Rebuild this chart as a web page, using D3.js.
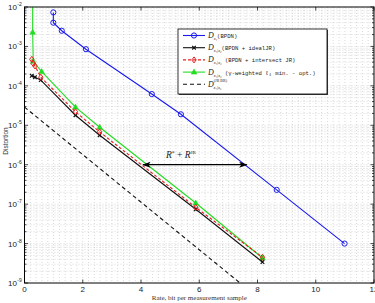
<!DOCTYPE html>
<html>
<head>
<meta charset="utf-8">
<script src="https://cdn.jsdelivr.net/npm/d3@7"></script>
<style>
  body { margin: 0; background: #fff; }
  svg { display: block; }
</style>
</head>
<body>
<svg id="chart" width="375" height="303"></svg>
<script>
// rate (bit / measurement sample) and distortion for each curve
const bpdnRate = [0.99, 0.99, 1.28, 2.11, 4.37, 5.37, 8.66, 10.99];
const bpdnDist = [7.3e-3, 4.0e-3, 2.5e-3, 8.5e-4, 6.2e-5, 1.9e-5, 2.3e-7, 1.0e-8];

const idealRate = [0.25, 0.36, 0.56, 1.75, 2.58, 5.88, 8.17];
const idealDist = [1.8e-4, 1.66e-4, 1.4e-4, 1.8e-5, 5.6e-6, 7.4e-8, 3.4e-9];

const interRate = [0.25, 0.30, 0.36, 0.56, 1.75, 2.58, 5.88, 8.17];
const interDist = [4.7e-4, 3.7e-4, 3.2e-4, 1.66e-4, 2.2e-5, 6.8e-6, 8.3e-8, 4.5e-9];

const gammaRate = [0.28, 0.28, 0.30, 0.59, 1.75, 2.58, 5.88, 8.17];
const gammaDist = [1e-1, 2.3e-3, 4.2e-4, 2.3e-4, 2.9e-5, 8.9e-6, 1.07e-7, 4.3e-9];

const boundRate = [0, 7.4];
const boundDist = [2.9e-5, 1e-9];

const xTicks = [0, 2, 4, 6, 8, 10, 12];
const yExps = [-9, -8, -7, -6, -5, -4, -3, -2];

const margin = {left: 24.5, right: 374, top: 7, bottom: 283};
const svg = d3.select("#chart");

const x = d3.scaleLinear().domain([0, 12]).range([margin.left, margin.right]);
const y = d3.scaleLog().domain([1e-9, 1e-2]).range([margin.bottom, margin.top]);

// grid (major + minor, all dotted like matlab)
const grid = svg.append("g")
    .attr("stroke", "#b4b4b4")
    .attr("stroke-width", 0.5)
    .attr("stroke-dasharray", "1,2");

const xMinor = d3.range(0.2, 12, 0.2);
grid.selectAll(".vx").data(xMinor).join("line")
    .attr("x1", d => x(d)).attr("x2", d => x(d))
    .attr("y1", margin.top).attr("y2", margin.bottom);

let yMinor = [];
yExps.slice(0, -1).forEach(e => {
    d3.range(1, 10).forEach(m => yMinor.push(m * Math.pow(10, e)));
});
yMinor = yMinor.filter(v => v > 1e-9);
grid.selectAll(".hy").data(yMinor).join("line")
    .attr("x1", margin.left).attr("x2", margin.right)
    .attr("y1", d => y(d)).attr("y2", d => y(d));

// ticks inside the box, all four sides
const ticks = svg.append("g").attr("stroke", "#000").attr("stroke-width", 0.7);
xTicks.forEach(t => {
    ticks.append("line").attr("x1", x(t)).attr("x2", x(t)).attr("y1", margin.bottom).attr("y2", margin.bottom - 3.5);
    ticks.append("line").attr("x1", x(t)).attr("x2", x(t)).attr("y1", margin.top).attr("y2", margin.top + 3.5);
});
yExps.forEach(e => {
    const yy = y(Math.pow(10, e));
    ticks.append("line").attr("x1", margin.left).attr("x2", margin.left + 3.5).attr("y1", yy).attr("y2", yy);
    ticks.append("line").attr("x1", margin.right).attr("x2", margin.right - 3.5).attr("y1", yy).attr("y2", yy);
});
yMinor.filter(v => Math.abs(Math.log10(v) % 1) > 1e-6).forEach(v => {
    const yy = y(v);
    ticks.append("line").attr("x1", margin.left).attr("x2", margin.left + 2).attr("y1", yy).attr("y2", yy);
    ticks.append("line").attr("x1", margin.right).attr("x2", margin.right - 2).attr("y1", yy).attr("y2", yy);
});

// tick labels
const lbl = svg.append("g").attr("font-family", "Liberation Sans, Arial, sans-serif").attr("fill", "#222");
lbl.selectAll(".xl").data(xTicks).join("text")
    .attr("x", d => x(d)).attr("y", 292)
    .attr("text-anchor", "middle").attr("font-size", 8)
    .text(d => d);

yExps.forEach(e => {
    lbl.append("text").attr("x", 17).attr("y", y(Math.pow(10, e)) + 3)
        .attr("text-anchor", "end").attr("font-size", 8).text("10");
    lbl.append("text").attr("x", 17.3).attr("y", y(Math.pow(10, e)) - 1)
        .attr("font-size", 5).text(e);
});

svg.append("text")
    .attr("transform", `translate(8,${(margin.top + margin.bottom) / 2 - 4}) rotate(-90)`)
    .attr("text-anchor", "middle")
    .attr("font-family", "Liberation Sans, Arial, sans-serif")
    .attr("font-size", 6.5).attr("fill", "#333")
    .text("Distortion");

svg.append("text")
    .attr("x", (margin.left + margin.right) / 2).attr("y", 300)
    .attr("text-anchor", "middle")
    .attr("font-family", "Liberation Serif, Times New Roman, serif")
    .attr("font-size", 7).attr("fill", "#333")
    .text("Rate, bit per measurement sample");

// curves
svg.append("clipPath").attr("id", "plotClip").append("rect")
    .attr("x", margin.left).attr("y", margin.top)
    .attr("width", margin.right - margin.left).attr("height", margin.bottom - margin.top);

const plot = svg.append("g").attr("clip-path", "url(#plotClip)");
const line = d3.line().x(d => x(d[0])).y(d => y(d[1]));

const series = [
    {rate: bpdnRate, dist: bpdnDist, color: "#1a1aee", marker: "circle", dash: null},
    {rate: boundRate, dist: boundDist, color: "#111", marker: null, dash: "4,3"},
    {rate: gammaRate, dist: gammaDist, color: "#22dd22", marker: "triangle", dash: null},
    {rate: idealRate, dist: idealDist, color: "#111", marker: "cross", dash: null},
    {rate: interRate, dist: interDist, color: "#e52020", marker: "diamond", dash: "3,2"}
];

function drawMarker(g, type, color, px, py) {
    if (type === "circle") {
        g.append("circle").attr("cx", px).attr("cy", py).attr("r", 2.6)
            .attr("fill", "none").attr("stroke", color).attr("stroke-width", 1);
    } else if (type === "triangle") {
        g.append("path").attr("d", `M${px},${py - 3} L${px + 2.8},${py + 2} L${px - 2.8},${py + 2} Z`)
            .attr("fill", color).attr("stroke", color).attr("stroke-width", 0.6);
    } else if (type === "cross") {
        g.append("path").attr("d", `M${px - 1.8},${py - 1.8} L${px + 1.8},${py + 1.8} M${px - 1.8},${py + 1.8} L${px + 1.8},${py - 1.8}`)
            .attr("stroke", color).attr("stroke-width", 1.2);
    } else if (type === "diamond") {
        g.append("path").attr("d", `M${px},${py - 3} L${px + 2.2},${py} L${px},${py + 3} L${px - 2.2},${py} Z`)
            .attr("fill", "none").attr("stroke", color).attr("stroke-width", 1);
    }
}

series.forEach(s => {
    const pts = s.rate.map((r, i) => [r, s.dist[i]]);
    plot.append("path").datum(pts)
        .attr("d", line)
        .attr("fill", "none")
        .attr("stroke", s.color)
        .attr("stroke-width", 1.1)
        .attr("stroke-dasharray", s.dash);
    if (s.marker) {
        pts.filter(p => p[1] <= 1e-2).forEach(p => drawMarker(plot, s.marker, s.color, x(p[0]), y(p[1])));
    }
});

// axis box
svg.append("rect")
    .attr("x", margin.left).attr("y", margin.top)
    .attr("width", margin.right - margin.left).attr("height", margin.bottom - margin.top)
    .attr("fill", "none").attr("stroke", "#000").attr("stroke-width", 1);

// R* + R^JR annotation
const defs = svg.append("defs");
defs.append("marker").attr("id", "ah").attr("viewBox", "0 0 10 10")
    .attr("refX", 9).attr("refY", 5).attr("markerWidth", 7).attr("markerHeight", 7)
    .attr("orient", "auto-start-reverse")
    .append("path").attr("d", "M0,1.5 L10,5 L0,8.5 L2.5,5 Z").attr("fill", "#000");

svg.append("line")
    .attr("x1", x(4.07)).attr("x2", x(7.63))
    .attr("y1", y(1e-6)).attr("y2", y(1e-6))
    .attr("stroke", "#000").attr("stroke-width", 1.2)
    .attr("marker-start", "url(#ah)").attr("marker-end", "url(#ah)");

const ann = svg.append("text").attr("x", 166).attr("y", 158)
    .attr("font-family", "Liberation Serif, Times New Roman, serif").attr("font-size", 9.5).attr("fill", "#222");
ann.append("tspan").attr("font-style", "italic").text("R");
ann.append("tspan").attr("font-size", 5.5).attr("dy", -3.5).text("*");
ann.append("tspan").attr("dy", 3.5).text(" + ");
ann.append("tspan").attr("font-style", "italic").text("R");
ann.append("tspan").attr("font-size", 5).attr("dy", -4).text("JR");

// legend
const lg = {x: 178, y: 29, w: 149, h: 65};
svg.append("clipPath").attr("id", "legClip").append("rect")
    .attr("x", lg.x).attr("y", lg.y).attr("width", lg.w - 1).attr("height", lg.h);
svg.append("rect").attr("x", lg.x + 1).attr("y", lg.y + 1).attr("width", lg.w).attr("height", lg.h)
    .attr("fill", "#444");
svg.append("rect").attr("x", lg.x).attr("y", lg.y).attr("width", lg.w).attr("height", lg.h)
    .attr("fill", "#fff").attr("stroke", "#000").attr("stroke-width", 0.8);

const legendSub = ["x\u2081", "x\u2081|x\u2082", "x\u2081|x\u2082", "x\u2081|x\u2082", "x\u2081|x\u2082"];
const legendText = ["(BPDN)", "(BPDN + idealJR)", " (BPDN + intersect JR)", " (\u03b3-weighted \u2113\u2081 min. - opt.)", ""];
const legendOrder = [0, 3, 4, 2, 1];

const lgG = svg.append("g").attr("clip-path", "url(#legClip)");
legendOrder.forEach((si, i) => {
    const s = series[si];
    const ly = lg.y + 6.5 + i * 12.2;
    lgG.append("line").attr("x1", lg.x + 5).attr("x2", lg.x + 27)
        .attr("y1", ly).attr("y2", ly)
        .attr("stroke", s.color).attr("stroke-width", 1.1)
        .attr("stroke-dasharray", s.dash);
    if (s.marker) drawMarker(lgG, s.marker, s.color, lg.x + 16, ly);
    const t = lgG.append("text").attr("x", lg.x + 30).attr("y", ly + 2.5)
        .attr("fill", "#222");
    t.append("tspan").attr("font-family", "Liberation Serif, serif").attr("font-style", "italic")
        .attr("font-size", 8).text("D");
    if (i === 4) {
        t.append("tspan").attr("font-family", "Liberation Serif, serif").attr("font-size", 4)
            .attr("dy", -5).text("(JR BR)");
        t.append("tspan").attr("font-family", "Liberation Serif, serif").attr("font-style", "italic")
            .attr("font-size", 4.2).attr("x", lg.x + 35.5).attr("dy", 7).text(legendSub[i]);
    } else {
        t.append("tspan").attr("font-family", "Liberation Serif, serif").attr("font-style", "italic")
            .attr("font-size", 4.2).attr("dy", 2).text(legendSub[i]);
        t.append("tspan").attr("font-family", "Liberation Mono, Courier New, monospace")
            .attr("font-size", 5.6).attr("dy", -2).text(legendText[i]);
    }
});
</script>
</body>
</html>
